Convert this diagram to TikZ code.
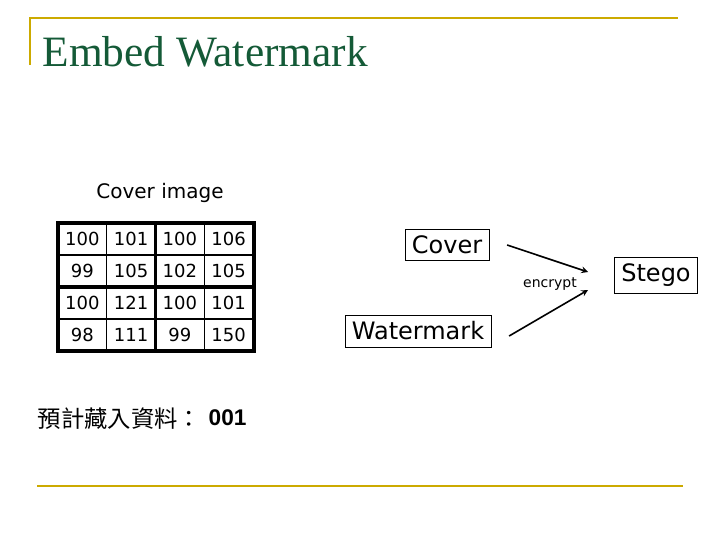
\documentclass[tikz,border=0pt]{standalone}
\usepackage{fontspec}
\setmainfont{Liberation Serif}
\setsansfont{DejaVu Sans}
\newfontfamily\cjk{Noto Sans CJK TC}
\newfontfamily\arialb{Liberation Sans}
\usetikzlibrary{positioning}
\definecolor{gold}{RGB}{204,170,0}
\definecolor{titlegreen}{RGB}{20,90,55}
\tikzset{
  cell/.style={draw, line width=1pt, minimum width=48.75*0.75pt, minimum height=32*0.75pt, inner sep=0pt, font=\sffamily\fontsize{13.5}{13.5}\selectfont},
  label box/.style={draw, thin, inner sep=5pt, font=\sffamily\fontsize{18}{18}\selectfont},
}
\begin{document}
\begin{tikzpicture}[x=0.75pt,y=-0.75pt]
\useasboundingbox (0,0) rectangle (720,540);
\draw[gold, line width=2pt] (30,65) -- (30,18) -- (678,18);
\draw[gold, line width=2pt] (37,486) -- (683,486);
\node[anchor=west, text=titlegreen, font=\fontsize{32.5}{32.5}\selectfont] (title) at (38,52) {Embed Watermark};

\node[font=\sffamily\fontsize{15}{15}\selectfont] (coverimg) at (160,193) {Cover image};
\foreach \row/\vals in {1/{100,101,100,106}, 2/{99,105,102,105}, 3/{100,121,100,101}, 4/{98,111,99,150}} {
  \foreach \v [count=\col] in \vals {
    \node[cell] (c\row\col) at (58+48.75*\col-24.4, 223+32*\row-16) {\v};
  }
}
\draw[line width=2.6pt] (58,287) -- (254,287);
\draw[line width=2.6pt] (155.5,223) -- (155.5,351);
\draw[line width=2.6pt] (58,223) rectangle (254,351);

\node[anchor=west, font=\cjk\fontsize{17.5}{17.5}\selectfont] (plan) at (33,419) {預計藏入資料：};
\node[anchor=west, font=\arialb\bfseries\fontsize{17}{17}\selectfont] (bits) at (204,418) {001};

\node[label box] (cover) at (447,245) {Cover};
\node[label box] (wm) at (418,331) {Watermark};
\node[label box] (stego) at (656,275) {Stego};
\coordinate (meet1) at (588,272);
\coordinate (meet2) at (588,290);
\draw[-stealth, line width=1.2pt] ([xshift=18*0.75pt]cover.east) -- (meet1);
\draw[-stealth, line width=1.2pt] ([xshift=18*0.75pt, yshift=-5*0.75pt]wm.east) -- (meet2);
\node[font=\sffamily\fontsize{10.5}{10.5}\selectfont] (enc) at (550,284) {encrypt};
\end{tikzpicture}
\end{document}
